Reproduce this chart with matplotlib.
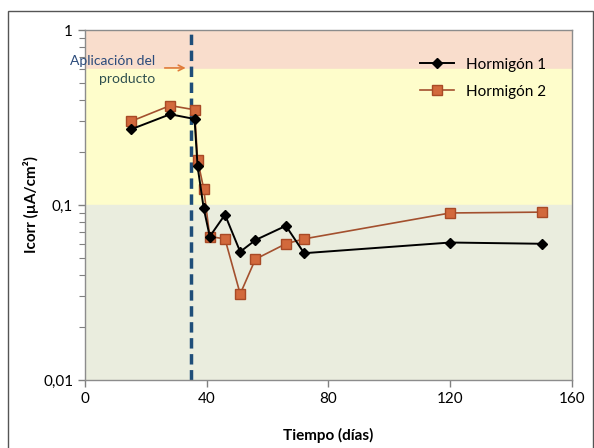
import matplotlib
matplotlib.use("Agg")
import matplotlib.pyplot as plt
from matplotlib.patches import Rectangle
from matplotlib.ticker import FixedLocator, FixedFormatter, LogLocator, NullFormatter

plt.rcParams["font.family"] = ["Lato", "DejaVu Sans"]

# datos
dias_h1 = [15, 28, 36, 37, 39, 41, 46, 51, 56, 66, 72, 120, 150]
icorr_h1 = [0.27, 0.33, 0.31, 0.166, 0.096, 0.066, 0.088, 0.054, 0.063, 0.076, 0.053, 0.061, 0.060]
dias_h2 = [15, 28, 36, 37, 39, 41, 46, 51, 56, 66, 72, 120, 150]
icorr_h2 = [0.30, 0.37, 0.35, 0.181, 0.124, 0.066, 0.064, 0.031, 0.049, 0.060, 0.064, 0.090, 0.091]
dia_aplicacion = 35
xticks = [0, 40, 80, 120, 160]
yticks = [0.01, 0.1, 1]
ytick_labels = ["0,01", "0,1", "1"]

fig = plt.figure(figsize=(5.94, 4.48), dpi=100)
ax = fig.add_axes([0.143, 0.152, 0.820, 0.781])

# bandas de fondo
ax.axhspan(0.6, 1, color="#F9DDCC", zorder=0)
ax.axhspan(0.1, 0.6, color="#FEFDCB", zorder=0)
ax.axhspan(0.01, 0.1, color="#EAEDDE", zorder=0)

ax.axvline(dia_aplicacion, color="#1F4E79", linestyle=(0, (3, 1.6)), linewidth=2.5, zorder=2)

ax.plot(dias_h1, icorr_h1, color="black", marker="D", markersize=5.5, linewidth=1.4,
        label="Hormigón 1", zorder=4)
ax.plot(dias_h2, icorr_h2, color="#A3502E", marker="s", markersize=7.5, linewidth=1.2,
        markerfacecolor="#D2693C", markeredgecolor="#A84A26", label="Hormigón 2", zorder=3)

ax.set_yscale("log")
ax.set_xlim(0, 160)
ax.set_ylim(0.01, 1)
ax.xaxis.set_major_locator(FixedLocator(xticks))
ax.yaxis.set_major_locator(FixedLocator(yticks))
ax.yaxis.set_major_formatter(FixedFormatter(ytick_labels))
ax.yaxis.set_minor_locator(LogLocator(base=10, subs=range(2, 10)))
ax.yaxis.set_minor_formatter(NullFormatter())
ax.tick_params(axis="both", which="major", labelsize=11, color="#808080", length=5, width=1)
ax.tick_params(axis="y", which="minor", color="#808080", length=4, width=0.8)

for s in ax.spines.values():
    s.set_color("#8c8c8c")
    s.set_linewidth(1)

ax.set_xlabel("Tiempo (días)", fontsize=11, fontweight="bold", labelpad=16)
ax.set_ylabel("Icorr (µA/cm²)", fontsize=11, fontweight="bold", labelpad=3)

ax.text(23, 0.665, "Aplicación del", ha="right", va="center", fontsize=10,
        color="#2A4A7A", zorder=5)
ax.text(23, 0.525, "producto", ha="right", va="center", fontsize=10,
        color="#2F4F4F", zorder=5)
ax.annotate("", xy=(34, 0.607), xytext=(25.3, 0.607),
            arrowprops=dict(arrowstyle="->", color="#E07B39", lw=1.2), zorder=5)

ax.legend(loc="upper right", frameon=False, fontsize=11, bbox_to_anchor=(0.975, 0.96),
          handlelength=2.2, labelspacing=0.85)

fig.patches.append(Rectangle((0.0135, -0.01), 0.985, 0.986, transform=fig.transFigure,
                             fill=False, edgecolor="#555555", linewidth=1))

fig.savefig("out.png", dpi=100)
